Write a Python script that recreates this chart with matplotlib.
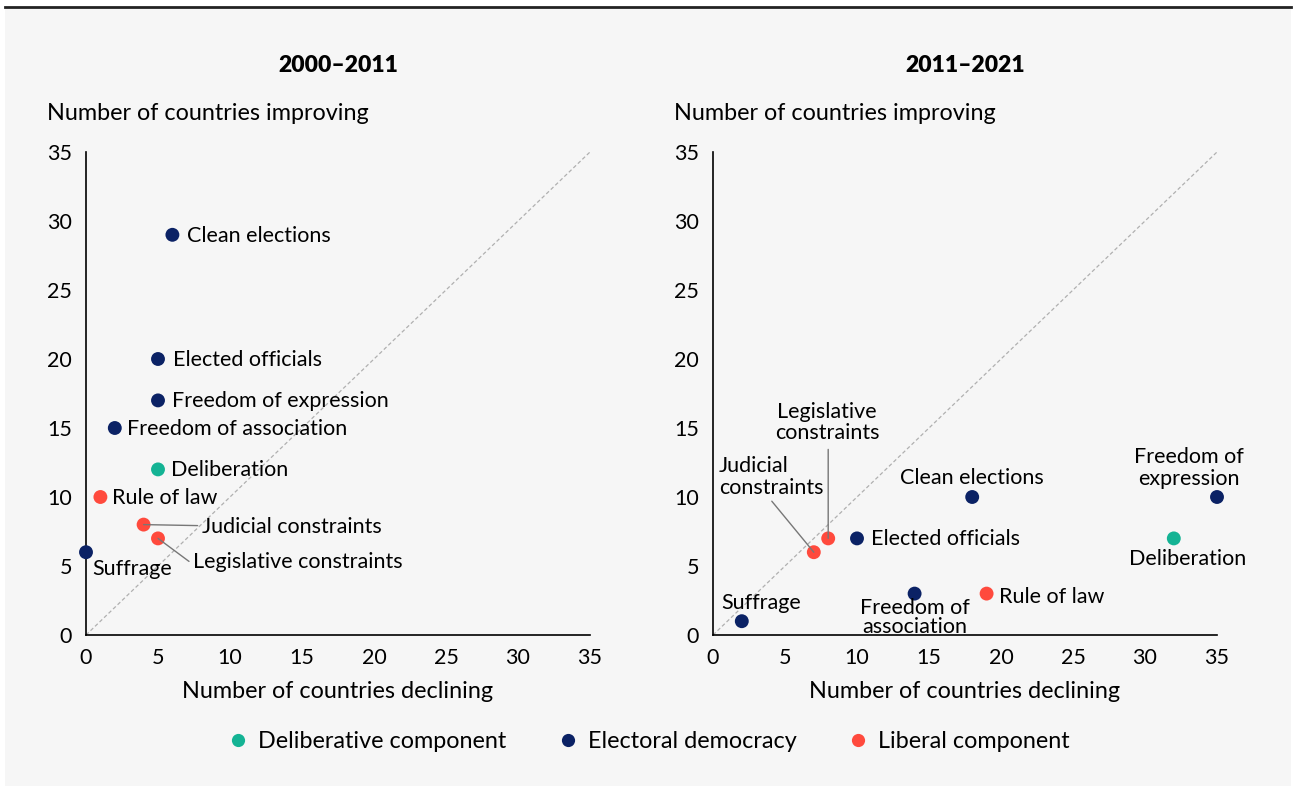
import matplotlib.pyplot as plt
from matplotlib.lines import Line2D
from matplotlib.patches import Rectangle

plt.rcParams['font.family'] = ['Lato', 'DejaVu Sans']

# data: 2000-2011
left_names = ["Clean elections", "Elected officials", "Freedom of expression", "Freedom of association",
              "Deliberation", "Rule of law", "Judicial constraints", "Legislative constraints", "Suffrage"]
left_x = [6, 5, 5, 2, 5, 1, 4, 5, 0]
left_y = [29, 20, 17, 15, 12, 10, 8, 7, 6]
left_group = ["ele", "ele", "ele", "ele", "del", "lib", "lib", "lib", "ele"]

# data: 2011-2021
right_names = ["Clean elections", "Freedom of\nexpression", "Deliberation", "Elected officials",
               "Legislative\nconstraints", "Judicial\nconstraints", "Freedom of\nassociation", "Rule of law", "Suffrage"]
right_x = [18, 35, 32, 10, 8, 7, 14, 19, 2]
right_y = [10, 10, 7, 7, 7, 6, 3, 3, 1]
right_group = ["ele", "ele", "del", "ele", "lib", "lib", "ele", "lib", "ele"]

titles = ["2000\u20132011", "2011\u20132021"]
ticks = [0, 5, 10, 15, 20, 25, 30, 35]

colors = {"del": "#14b394", "ele": "#0b2265", "lib": "#ff4a3d"}
group_labels = {"del": "Deliberative component", "ele": "Electoral democracy", "lib": "Liberal component"}

W, H = 1296, 788
fig = plt.figure(figsize=(W / 100, H / 100), dpi=100)
fig.patch.set_facecolor("white")
fig.patches.append(Rectangle((5 / W, 2 / H), 1286 / W, 778 / H, transform=fig.transFigure,
                             facecolor="#f6f6f6", edgecolor="none", zorder=-10))
fig.add_artist(Line2D([5 / W, 1291 / W], [1 - 7 / H, 1 - 7 / H], color="#222222", lw=2,
                      transform=fig.transFigure))

FS = 15.5
PX = 0.72  # px -> points

# label placement per panel: (dx_px, dy_px, ha, leader line end in px from point or None)
left_layout = [(15, -1, "left", None), (15, -1, "left", None), (14, -1, "left", None), (12, -1, "left", None),
               (13, -1, "left", None), (12, -1, "left", None), (58, -2, "left", (54, -1)),
               (35, -24, "left", (31, -23)), (6, -17, "left", None)]
right_layout = [(0, 19, "center", None), (-28, 29, "center", None), (14, -21, "center", None),
                (14, -1, "left", None), (-1, 116, "center", (0, 89)), (-95, 75, "left", (-42, 51)),
                (0, -24, "center", None), (12, -3, "left", None), (-21, 18, "left", None)]

panels = [
    (86, left_names, left_x, left_y, left_group, left_layout),
    (713, right_names, right_x, right_y, right_group, right_layout),
]

for i, (x0, names, xs, ys, groups, layout) in enumerate(panels):
    ax = fig.add_axes([x0 / W, 1 - 635 / H, 504 / W, 483 / H])
    ax.set_facecolor("none")
    ax.set_xlim(0, 35)
    ax.set_ylim(0, 35)
    ax.set_xticks(ticks)
    ax.set_yticks(ticks)
    ax.tick_params(length=0, labelsize=FS)
    ax.tick_params(axis="y", pad=10)
    ax.tick_params(axis="x", pad=9)
    for s in ["top", "right"]:
        ax.spines[s].set_visible(False)
    for s in ["left", "bottom"]:
        ax.spines[s].set_linewidth(1.2)
    ax.plot([0, 35], [0, 35], ls=(0, (3, 2)), color="#b0b0b0", lw=0.9, zorder=1)
    ax.scatter(xs, ys, s=100, c=[colors[g] for g in groups], clip_on=False, zorder=3, linewidths=0)

    for name, x, y, (dx, dy, ha, line) in zip(names, xs, ys, layout):
        ax.annotate(name, (x, y), xytext=(dx * PX, dy * PX), textcoords="offset points",
                    ha=ha, va="center", fontsize=FS, linespacing=0.9 if "association" in name else 1.1)
        if line:
            ax.annotate("", (x, y), xytext=(line[0] * PX, line[1] * PX), textcoords="offset points",
                        arrowprops=dict(arrowstyle="-", color="#777777", lw=1, shrinkA=0, shrinkB=0))

    cx = (x0 + 252) / W
    fig.text(cx, 1 - 66 / H, titles[i], ha="center", va="center", fontsize=16.5, fontweight="heavy")
    fig.text((x0 - 39) / W, 1 - 113 / H, "Number of countries improving", ha="left", va="center", fontsize=16.8)
    fig.text(cx, 1 - 691 / H, "Number of countries declining", ha="center", va="center", fontsize=16.8)

handles = [Line2D([], [], marker="o", ls="none", markersize=9.5, markeredgewidth=0,
                  color=colors[g], label=group_labels[g]) for g in ["del", "ele", "lib"]]
fig.legend(handles=handles, ncol=3, frameon=False, loc="center", bbox_to_anchor=(0.5, 1 - 742 / H),
           fontsize=16.8, handletextpad=0.35, columnspacing=2.15, handlelength=1.0)

fig.savefig("out.png", dpi=100, facecolor=fig.get_facecolor())
